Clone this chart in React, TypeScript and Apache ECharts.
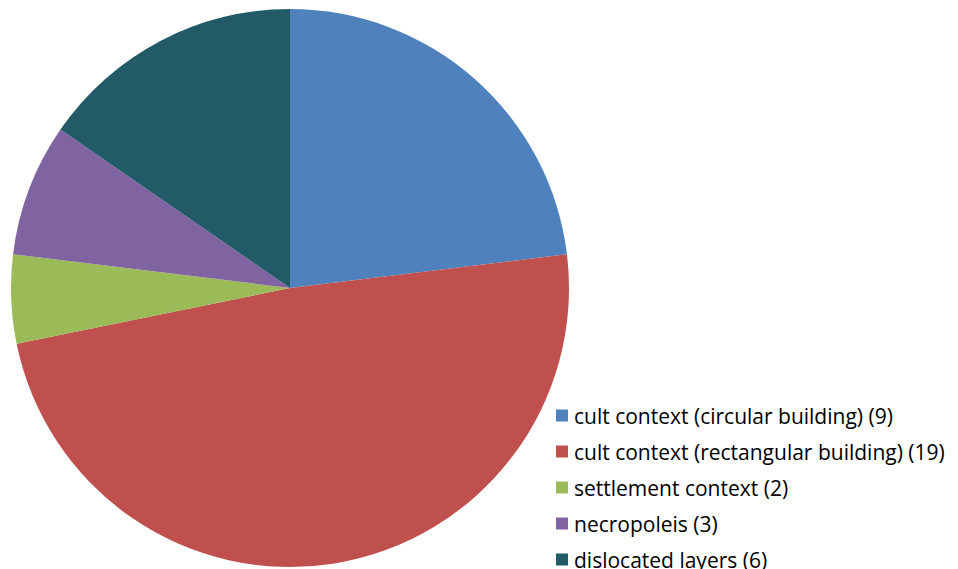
import React, { useEffect, useRef } from "react";
import * as echarts from "echarts";

const categories = [
  "cult context (circular building) (9)",
  "cult context (rectangular building) (19)",
  "settlement context (2)",
  "necropoleis (3)",
  "dislocated layers (6)",
];
const values = [9, 19, 2, 3, 6];
const colors = ["#4F81BD", "#C0504D", "#9BBB59", "#8064A2", "#225A68"];

export default function App() {
  const ref = useRef<HTMLDivElement>(null);
  useEffect(() => {
    if (!ref.current) return;
    const chart = echarts.init(ref.current, undefined, { renderer: "svg" });
    chart.setOption({
      animation: false,
      backgroundColor: "#ffffff",
      color: colors,
      legend: {
        orient: "vertical",
        left: 551,
        top: 400,
        height: 170,
        itemWidth: 12,
        itemHeight: 12,
        itemGap: 15,
        icon: "rect",
        textStyle: {
          fontFamily: "Open Sans",
          fontSize: 21,
          lineHeight: 21,
          color: "#000000",
          padding: [0, 0, 0, 1],
        },
        data: categories,
      },
      series: [
        {
          type: "pie",
          center: [290, 288],
          radius: 279,
          startAngle: 90,
          clockwise: true,
          label: { show: false },
          labelLine: { show: false },
          emphasis: { disabled: true },
          data: categories.map((c, i) => ({ name: c, value: values[i] })),
        },
      ],
    });
    return () => chart.dispose();
  }, []);
  return <div ref={ref} style={{ width: 958, height: 569, position: "absolute", left: 0, top: 0 }} />;
}
